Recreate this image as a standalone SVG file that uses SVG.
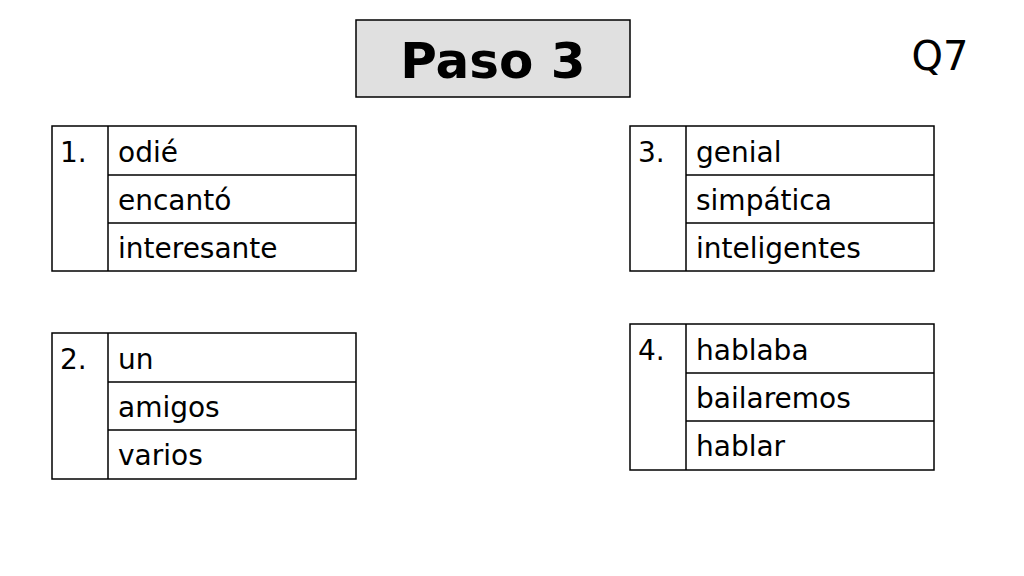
<svg xmlns="http://www.w3.org/2000/svg" width="1024" height="576" viewBox="0 0 1024 576">
<style>
.b{fill:none;stroke:#000;stroke-width:1.5}
.t{font-family:"Comic Sans MS","DejaVu Sans",sans-serif;font-size:28px;fill:#000}
</style>
<rect width="1024" height="576" fill="#fff"/>
<g id="title"><rect x="356" y="20" width="274" height="77" fill="#e0e0e0" stroke="#000" stroke-width="1.5"/>
<text x="493" y="78" text-anchor="middle" font-family="'Comic Sans MS','DejaVu Sans',sans-serif" font-weight="bold" font-size="50">Paso 3</text></g>
<g id="q7"><text x="940" y="70" text-anchor="middle" font-family="'Comic Sans MS','DejaVu Sans',sans-serif" font-size="40">Q7</text></g>
<g id="t1"><rect class="b" x="52" y="126" width="304" height="145"/><path class="b" d="M108 126V271M108 175H356M108 223H356"/>
<text class="t" x="60" y="162">1.</text><text class="t" x="118" y="162">odié</text><text class="t" x="118" y="210">encantó</text><text class="t" x="118" y="258">interesante</text></g>
<g id="t2"><rect class="b" x="52" y="333" width="304" height="146"/><path class="b" d="M108 333V479M108 382H356M108 430H356"/>
<text class="t" x="60" y="369">2.</text><text class="t" x="118" y="369">un</text><text class="t" x="118" y="417">amigos</text><text class="t" x="118" y="465">varios</text></g>
<g id="t3"><rect class="b" x="630" y="126" width="304" height="145"/><path class="b" d="M686 126V271M686 175H934M686 223H934"/>
<text class="t" x="638" y="162">3.</text><text class="t" x="696" y="162">genial</text><text class="t" x="696" y="210">simpática</text><text class="t" x="696" y="258">inteligentes</text></g>
<g id="t4"><rect class="b" x="630" y="324" width="304" height="146"/><path class="b" d="M686 324V470M686 373H934M686 421H934"/>
<text class="t" x="638" y="360">4.</text><text class="t" x="696" y="360">hablaba</text><text class="t" x="696" y="408">bailaremos</text><text class="t" x="696" y="456">hablar</text></g>
<g id="connectors"/>
</svg>
